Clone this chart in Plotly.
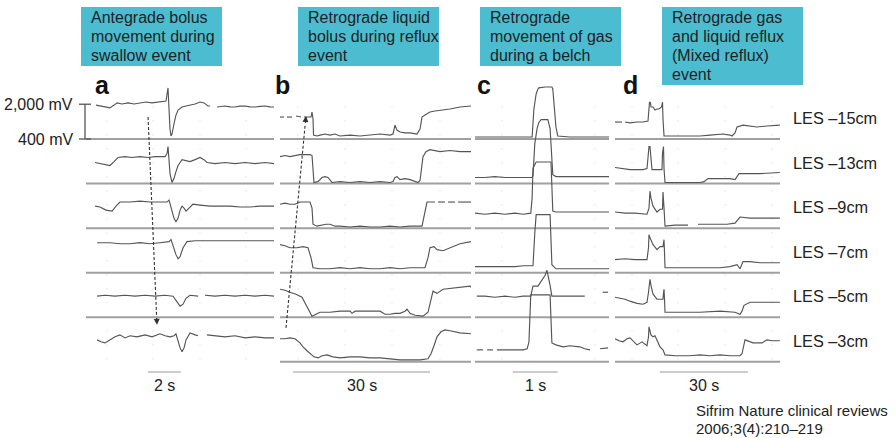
import plotly.graph_objects as go

# ---------------------------------------------------------------------------
# Intraluminal impedance recordings, six channels per event (mV vs seconds).
# Each trace is a list of (time_s, impedance_mV); None marks a gap in signal.
# ---------------------------------------------------------------------------
CHANNELS = ["LES \u201315cm", "LES \u201313cm", "LES \u20139cm",
            "LES \u20137cm", "LES \u20135cm", "LES \u20133cm"]
BASELINE_MV = 400
CHANNEL_SPACING_MV = 2050

PANEL_LETTERS = ["a", "b", "c", "d"]
PANEL_TITLES = [
    ["Antegrade bolus", "movement during", "swallow event"],
    ["Retrograde liquid", "bolus during reflux", "event"],
    ["Retrograde", "movement of gas", "during a belch"],
    ["Retrograde gas", "and liquid reflux", "(Mixed reflux)", "event"],
]
PANEL_SPAN_S = [11.39, 41.82, 2.98, 56.25]
TIME_BAR_S = [2, 30, 1, 30]
TIME_BAR_LABELS = ["2 s", "30 s", "1 s", "30 s"]
SCALE_MV = [2000, 400]
SCALE_LABELS = ["2,000 mV", "400 mV"]
CITATION = ["Sifrim Nature clinical reviews", "2006;3(4):210\u2013219"]

# (a) swallow
A_CH1 = [(0.61, 1960), (0.85, 1920), (1.09, 1870), (1.45, 1830), (1.70, 1960), (1.88, 2060),
         (2.18, 2010), (2.55, 2060), (2.91, 2010), (3.27, 2060), (3.64, 2100), (4.00, 2060),
         (4.36, 2100), (4.67, 2100), (4.85, 2150), (4.91, 2470), (4.97, 2750), (5.00, 2240),
         (5.03, 1370), (5.09, 860), (5.15, 540), (5.21, 630), (5.33, 1090), (5.45, 1500),
         (5.58, 1730), (5.82, 1870), (6.06, 1920), (6.30, 1960), (6.61, 2010), (6.91, 2100),
         (7.15, 2060), (7.39, 1920), (7.52, 1920), None, (7.94, 1870), (8.18, 1900),
         (8.42, 1920), (8.73, 1880), (9.03, 1870), (9.33, 1910), (9.64, 1920), (9.94, 1880),
         (10.24, 1870), (10.55, 1900), (10.85, 1920), (11.15, 1880), (11.39, 1870)]
A_CH2 = [(0.55, 1370), (0.85, 1320), (1.15, 1270), (1.45, 1230), (1.70, 1410), (1.94, 1600),
         (2.36, 1640), (2.79, 1600), (3.27, 1640), (3.76, 1600), (4.18, 1640), (4.48, 1640),
         (4.79, 1640), (4.91, 1780), (4.97, 2100), (5.00, 1780), (5.03, 1320), (5.09, 860),
         (5.21, 450), (5.33, 630), (5.45, 950), (5.58, 1230), (5.82, 1500), (6.06, 1460),
         (6.30, 1410), (6.61, 1500), (6.91, 1600), (7.15, 1500), (7.33, 1370), (7.82, 1320),
         (8.42, 1370), (9.03, 1320), (9.64, 1370), (10.24, 1320), (10.85, 1370), (11.39, 1320)]
A_CH3 = [(0.55, 1410), (0.85, 1370), (1.21, 1230), (1.58, 1180), (1.82, 1410), (2.06, 1600),
         (2.67, 1600), (3.27, 1640), (3.88, 1600), (4.48, 1600), (4.91, 1600), (5.03, 1690),
         (5.09, 1500), (5.21, 1230), (5.33, 860), (5.45, 680), (5.58, 860), (5.70, 1230),
         (5.82, 1410), (5.94, 1320), (6.06, 1180), (6.24, 1320), (6.48, 1500), (6.91, 1460),
         (7.52, 1410), (8.12, 1410), (8.73, 1410), (9.33, 1370), (9.94, 1370), (10.55, 1410),
         (11.39, 1410)]
A_CH4 = [(0.67, 1780), (1.45, 1780), (2.06, 1730), (2.67, 1730), (3.27, 1780), (3.88, 1730),
         (4.48, 1780), (4.91, 1830), (5.03, 1830), (5.15, 1920), (5.21, 1780), (5.33, 1550),
         (5.45, 1230), (5.58, 1040), (5.70, 1140), (5.88, 1550), (6.12, 1830), (6.61, 1870),
         (7.52, 1870), (8.73, 1870), (9.94, 1870), (11.39, 1870)]
A_CH5 = [(0.67, 1370), (1.15, 1410), (1.76, 1370), (2.36, 1410), (2.97, 1370), (3.58, 1410),
         (4.18, 1370), (4.79, 1410), (5.27, 1370), (5.45, 1180), (5.58, 1000), (5.70, 910),
         (5.88, 1000), (6.06, 1270), (6.30, 1410), (6.79, 1370), None, (7.21, 1410),
         (7.82, 1370), (8.42, 1410), (9.03, 1370), (9.64, 1410), (10.24, 1370), (10.85, 1410),
         (11.39, 1370)]
A_CH6 = [(0.67, 1410), (0.91, 1320), (1.15, 1270), (1.45, 1410), (1.76, 1550), (2.06, 1640),
         (2.36, 1500), (2.67, 1600), (3.09, 1550), (3.58, 1640), (4.00, 1550), (4.48, 1690),
         (4.79, 1600), (5.09, 1550), (5.33, 1600), (5.45, 1690), (5.58, 1320), (5.70, 1040),
         (5.82, 860), (5.94, 1040), (6.06, 1410), (6.30, 1730), (6.61, 1640), (6.79, 1600),
         None, (7.33, 1640), (7.82, 1600), (8.42, 1550), (9.03, 1600), (9.64, 1500),
         (10.24, 1550), (10.85, 1500), (11.39, 1500)]

# (b) liquid reflux
B_CH1 = [(0.0, 1410), (0.88, 1410), None, (1.53, 1410), (2.63, 1410), None, (3.50, 1460),
         (4.60, 1410), None, (5.26, 1410), (6.79, 1410), (7.01, 1640), (7.23, 1320),
         (7.34, 580), (8.10, 540), (8.76, 580), (9.85, 630), (10.95, 580), (12.04, 630),
         (13.14, 540), (15.33, 580), (17.52, 540), (19.71, 580), (21.90, 630), (24.09, 580),
         (24.74, 630), (25.18, 1040), (25.62, 810), (26.28, 720), (27.37, 680), (28.47, 680),
         (30.00, 630), (30.66, 860), (31.09, 1410), (31.75, 1500), (32.84, 1640), (33.94, 1690),
         (35.69, 1730), (37.22, 1780), (39.41, 1870), (41.82, 1920)]
B_CH2 = [(0.0, 1640), (1.09, 1690), (2.19, 1640), (3.28, 1690), (4.38, 1730), (5.47, 1730),
         (6.57, 1730), (7.01, 1690), (7.23, 860), (7.44, 450), (8.32, 490), (9.20, 680),
         (9.85, 720), (10.50, 680), (11.39, 450), (13.14, 490), (15.33, 450), (17.52, 490),
         (19.71, 450), (21.90, 490), (24.09, 450), (24.74, 490), (25.18, 680), (25.62, 720),
         (26.28, 580), (27.37, 630), (28.47, 580), (29.56, 490), (30.22, 450), (30.66, 540),
         (31.31, 1640), (31.97, 1870), (32.84, 1960), (35.03, 1870), (37.22, 1920),
         (39.41, 1870), (41.82, 1870)]
B_CH3 = [(0.0, 1500), (1.09, 1550), (2.19, 1500), (3.28, 1500), (4.38, 1600), (5.47, 1600),
         (6.57, 1600), (7.01, 1320), (7.23, 580), (8.10, 490), (9.20, 540), (10.07, 580),
         (10.95, 580), (12.04, 490), (13.14, 490), (15.33, 450), (17.52, 490), (19.71, 450),
         (21.90, 450), (24.09, 490), (26.28, 450), (28.47, 490), (31.09, 490), (31.75, 1090),
         (32.19, 1600), (33.94, 1600), None, (34.60, 1600), (36.13, 1600), None, (36.80, 1600),
         (38.32, 1600), None, (39.00, 1600), (41.82, 1600)]
B_CH4 = [(0.0, 1690), (1.09, 1640), (2.19, 1550), (3.72, 1550), (5.04, 1600), (6.13, 1550),
         (6.79, 1090), (7.23, 630), (8.76, 580), (10.95, 580), (13.14, 630), (15.33, 580),
         (17.52, 630), (19.71, 580), (21.90, 580), (24.09, 630), (26.28, 580), (28.47, 630),
         (30.66, 630), (31.75, 630), (32.41, 1090), (32.84, 1550), (33.72, 1600), (34.38, 1460),
         (35.69, 1410), (37.22, 1550), (39.41, 1730), (41.82, 1830)]
B_CH5 = [(0.0, 1690), (1.09, 1640), (2.19, 1550), (3.50, 1460), (4.82, 1320), (5.91, 910),
         (6.57, 630), (7.01, 450), (7.88, 540), (8.76, 630), (10.95, 630), (13.14, 680),
         (15.33, 680), (15.77, 580), (16.42, 680), (18.61, 680), (21.90, 680), (23.00, 540),
         (24.09, 540), (25.18, 580), (26.28, 580), (27.37, 680), (27.81, 770), (28.47, 580),
         (29.56, 490), (31.31, 450), (32.41, 630), (33.50, 1600), (34.38, 1500), (35.69, 1690),
         (37.22, 1730), (39.41, 1780), (41.60, 1830), (41.82, 1780)]
B_CH6 = [(0.0, 1460), (1.09, 1460), (2.19, 1500), (3.28, 1460), (4.38, 1270), (5.04, 1090),
         (5.91, 910), (6.57, 770), (7.44, 630), (8.32, 580), (9.20, 680), (10.29, 720),
         (11.61, 630), (13.14, 580), (15.33, 630), (17.52, 630), (19.71, 580), (21.90, 580),
         (24.09, 540), (26.28, 490), (28.47, 490), (30.66, 490), (32.41, 540), (33.06, 770),
         (33.72, 1140), (34.38, 1550), (35.25, 1780), (36.13, 1870), (37.22, 1830),
         (38.32, 1780), (39.41, 1730), (41.82, 1690)]

# (c) belch
C_CH1 = [(0.0, 490), (0.44, 490), (0.89, 490), (1.27, 490), (1.31, 1780), (1.36, 2470),
         (1.40, 2700), (1.42, 2750), (1.56, 2790), (1.71, 2790), (1.73, 2700), (1.78, 1550),
         (1.80, 950), (1.84, 540), (2.11, 490), (2.56, 490), (2.98, 490)]
C_CH2 = [(0.0, 680), (0.22, 680), (0.44, 720), (0.67, 680), (0.89, 680), (1.07, 680),
         (1.27, 680), (1.29, 770), (1.33, 2240), (1.38, 2930), (1.42, 3210), (1.47, 3340),
         (1.62, 3340), (1.67, 2930), (1.69, 2240), (1.71, 1320), (1.73, 810), (1.80, 720),
         (2.11, 720), (2.56, 720), (2.98, 720)]
C_CH3 = [(0.0, 1090), (0.22, 1040), (0.44, 1090), (0.67, 1040), (0.89, 1090), (1.07, 1040),
         (1.24, 1090), (1.27, 1780), (1.29, 3160), (1.36, 3440), (1.69, 3440), (1.71, 2240),
         (1.73, 1180), (1.80, 1140), (2.11, 1140), (2.56, 1140), (2.98, 1140)]
C_CH4 = [(0.0, 680), (0.22, 680), (0.44, 680), (0.67, 680), (0.89, 680), (1.07, 720),
         (1.29, 720), (1.33, 2240), (1.36, 3070), (1.67, 3070), (1.69, 1780), (1.71, 770),
         (1.80, 580), (2.11, 580), (2.56, 580), (2.98, 580)]
C_CH5 = [(0.04, 1370), (0.22, 1370), (0.44, 1320), (0.67, 1370), (0.89, 1320), (1.07, 1370),
         (1.24, 1370), (1.29, 1830), (1.40, 1830), (1.47, 2060), (1.56, 2330), (1.60, 2560),
         (1.64, 2240), (1.67, 1870), (1.71, 1370), (1.96, 1370), (2.22, 1370), (2.44, 1370),
         None, (2.84, 1550), (2.96, 1550)]
C_CH6 = [(0.04, 950), (0.18, 950), None, (0.27, 950), (0.40, 950), None, (0.49, 950),
         (0.67, 950), (0.89, 950), (1.07, 950), (1.16, 1000), (1.20, 1320), (1.24, 3480),
         (1.67, 3480), (1.71, 1270), (1.80, 1180), (1.96, 1090), (2.11, 1140), (2.33, 1090),
         (2.44, 1000), (2.56, 950), None, (2.78, 1000), (2.96, 1040)]

# (d) mixed reflux
D_CH1 = [(0.0, 1180), (2.39, 1180), None, (3.41, 1180), (5.11, 1140), (7.50, 1180),
         (9.55, 1180), (11.25, 1230), (11.59, 1780), (11.76, 2100), (12.10, 2060),
         (12.27, 1870), (12.96, 1870), (13.64, 1730), (14.32, 1780), (15.00, 1780),
         (15.85, 1870), (16.02, 2100), (16.19, 2100), (16.36, 1320), (16.71, 540),
         (22.16, 540), (25.57, 540), (28.98, 540), (32.39, 580), (36.82, 630), (39.21, 580),
         (39.89, 540), (40.91, 680), (41.60, 950), (43.64, 1040), (46.03, 1000), (48.41, 950),
         (51.82, 1000), (56.20, 1040)]
D_CH2 = [(0.0, 1140), (2.39, 1090), (5.11, 1040), (7.50, 1040), (9.55, 1040), (10.91, 1090),
         (11.42, 1780), (11.59, 2100), (11.93, 2100), (12.10, 1780), (12.61, 1040),
         (13.98, 1040), (15.34, 1040), (16.02, 1040), (16.19, 1780), (16.36, 2100),
         (16.53, 2100), (16.71, 1090), (17.05, 450), (22.16, 450), (25.57, 450), (28.98, 450),
         (30.34, 490), (31.71, 630), (35.80, 630), (39.21, 630), (40.91, 580), (41.60, 720),
         (42.28, 860), (46.03, 860), (49.44, 860), (56.20, 910)]
D_CH3 = [(0.0, 1140), (3.41, 1090), (6.82, 1090), (9.55, 1040), (10.91, 1040), (11.59, 1320),
         (11.93, 2100), (12.27, 1780), (12.96, 1410), (14.32, 1140), (15.34, 1270),
         (16.19, 1270), (16.36, 2060), (16.71, 1320), (17.05, 490), (20.46, 540), (24.89, 540),
         None, (28.30, 580), (32.39, 580), (35.80, 580), (38.19, 580), (40.91, 630),
         (41.94, 770), (42.62, 910), (46.03, 860), (49.44, 860), (56.20, 860)]
D_CH4 = [(0.0, 1000), (3.41, 1040), (6.82, 1000), (9.55, 1000), (10.91, 1000), (11.42, 1550),
         (11.59, 2150), (11.93, 2010), (12.96, 1690), (14.32, 1460), (15.34, 1600),
         (16.36, 1600), (16.53, 1780), (16.71, 1920), (16.88, 1320), (17.05, 630), (22.16, 630),
         (28.98, 630), (35.80, 630), (39.21, 680), (40.91, 720), (41.60, 770), (42.62, 580),
         (43.64, 910), (46.03, 910), (49.44, 860), (56.20, 860)]
D_CH5 = [(0.0, 1320), (1.70, 1270), (3.41, 1230), (5.11, 1140), (7.50, 1040), (9.55, 1000),
         (10.91, 1090), (11.42, 1550), (11.93, 2150), (12.27, 1870), (12.96, 1460),
         (14.32, 1230), (15.34, 1230), (16.36, 1230), (16.53, 1500), (16.71, 1690),
         (16.88, 1230), (17.05, 630), (22.16, 630), (28.98, 630), (35.80, 680), (40.91, 630),
         (42.62, 540), (43.30, 680), (43.98, 950), (46.03, 1090), (49.44, 1090), (52.85, 1090),
         (56.20, 1090)]
D_CH6 = [(0.0, 1460), (1.36, 1370), (2.73, 1320), (4.09, 1460), (5.11, 1500), (6.48, 1320),
         (7.50, 1180), (9.21, 1320), (10.23, 1230), (10.91, 1140), (11.42, 1550), (11.59, 2010),
         (12.27, 1640), (12.96, 1550), (13.64, 1600), (14.32, 1410), (15.34, 1090),
         (16.36, 950), (16.71, 860), (17.05, 720), (20.46, 680), (25.57, 680), (28.98, 720),
         (32.39, 680), (35.80, 720), (39.21, 680), (42.62, 680), (43.30, 770), (44.32, 1410),
         (46.03, 1320), (47.05, 1270), (48.76, 1270), (50.12, 1270), (51.82, 1410),
         (53.53, 1370), (56.20, 1370)]

PANELS = [
    [A_CH1, A_CH2, A_CH3, A_CH4, A_CH5, A_CH6],
    [B_CH1, B_CH2, B_CH3, B_CH4, B_CH5, B_CH6],
    [C_CH1, C_CH2, C_CH3, C_CH4, C_CH5, C_CH6],
    [D_CH1, D_CH2, D_CH3, D_CH4, D_CH5, D_CH6],
]

# ---------------------------------------------------------------------------
# Layout
# ---------------------------------------------------------------------------
W, H = 896, 438
FONT = "Liberation Sans, Arial, Helvetica, sans-serif"
BOX_COLOR = "#4cbcd1"
TEXT_COLOR = "#222222"
TRACE_COLOR = "#555555"
BASE_COLOR = "#a0a0a0"

MV_PER_PX = 46
TOP_BASELINE_PX = 139
Y_TOP = BASELINE_MV + TOP_BASELINE_PX * MV_PER_PX
Y_BOTTOM = BASELINE_MV - (H - TOP_BASELINE_PX) * MV_PER_PX

DOMAINS_PX = [(86, 274), (280, 471), (475, 609), (615, 780)]
AXIS_IDS = ["x", "x2", "x3", "x4"]
BASELINE_COUNT = [5, 6, 6, 6]
TIME_BAR_START = [3.75, 2.85, 0.84, 15.3]
GRID_TIMES = [[1.27, 4.06, 6.91, 9.70], [3.94, 14.23, 24.52, 35.03],
              [0.6, 2.67], [5.80, 21.48, 37.5, 53.53]]


def px_x(px):
    return px / W


def px_y(px):
    return 1 - px / H


def offset(k):
    return k * CHANNEL_SPACING_MV


fig = go.Figure()
shapes = []
annotations = []

for p, traces in enumerate(PANELS):
    xa = AXIS_IDS[p]
    span = PANEL_SPAN_S[p]
    # faint dotted time grid
    for t in GRID_TIMES[p]:
        shapes.append(dict(type="line", xref=xa, yref="y", x0=t, x1=t,
                           y0=BASELINE_MV + 1500, y1=BASELINE_MV - offset(5) - 300,
                           line=dict(color="#cfcfcf", width=1, dash="1px,13px"), layer="below"))
    # channel baselines
    for k in range(BASELINE_COUNT[p]):
        yb = BASELINE_MV - offset(k)
        fig.add_trace(go.Scatter(x=[0, span], y=[yb, yb], xaxis=xa, yaxis="y", mode="lines",
                                 line=dict(color=BASE_COLOR, width=2), hoverinfo="skip"))
    # impedance traces
    for k, pts in enumerate(traces):
        xs, ys = [], []
        for pt in pts:
            if pt is None:
                xs.append(None)
                ys.append(None)
            else:
                xs.append(pt[0])
                ys.append(pt[1] - offset(k))
        fig.add_trace(go.Scatter(x=xs, y=ys, xaxis=xa, yaxis="y", mode="lines",
                                 connectgaps=False,
                                 line=dict(color=TRACE_COLOR, width=1.15), hoverinfo="skip"))
    # time scale bar
    t0 = TIME_BAR_START[p]
    t1 = t0 + TIME_BAR_S[p]
    shapes.append(dict(type="line", xref=xa, yref="paper", x0=t0, x1=t1,
                       y0=px_y(372), y1=px_y(372), line=dict(color="#999999", width=1.2)))
    annotations.append(dict(xref=xa, yref="paper", x=(t0 + t1) / 2, y=px_y(385),
                            text=TIME_BAR_LABELS[p], showarrow=False,
                            font=dict(size=16, color=TEXT_COLOR, family=FONT),
                            xanchor="center", yanchor="middle"))

# event description boxes, one annotation per text line
BOXES_PX = [(81, 222, 7, 66), (298, 439, 7, 66), (480, 621, 7, 66), (662, 803, 7, 85)]
LINE_STEP_PX = 18.8
for (x0, x1, y0, y1), lines in zip(BOXES_PX, PANEL_TITLES):
    shapes.append(dict(type="rect", xref="paper", yref="paper",
                       x0=px_x(x0), x1=px_x(x1), y0=px_y(y1), y1=px_y(y0),
                       fillcolor=BOX_COLOR, line=dict(width=0), layer="below"))
    for i, line in enumerate(lines):
        annotations.append(dict(xref="paper", yref="paper", x=px_x(x0 + 8),
                                y=px_y(y0 + 11 + i * LINE_STEP_PX),
                                text=line, showarrow=False, align="left",
                                xanchor="left", yanchor="middle",
                                font=dict(size=16, color=TEXT_COLOR, family=FONT)))

# panel letters
LETTER_X_PX = [102, 282, 484, 630]
for letter, lx in zip(PANEL_LETTERS, LETTER_X_PX):
    annotations.append(dict(xref="paper", yref="paper", x=px_x(lx), y=px_y(85),
                            text=f"<b>{letter}</b>", showarrow=False,
                            xanchor="center", yanchor="middle",
                            font=dict(size=25, color="#111111", family=FONT)))

# channel labels
for k, name in enumerate(CHANNELS):
    annotations.append(dict(xref="paper", yref="y", x=px_x(791),
                            y=BASELINE_MV + 21 * MV_PER_PX - offset(k),
                            text=name, showarrow=False, xanchor="left", yanchor="middle",
                            font=dict(size=16.3, color=TEXT_COLOR, family=FONT)))

# amplitude scale bar
shapes.append(dict(type="line", xref="paper", yref="y", x0=px_x(85), x1=px_x(85),
                   y0=SCALE_MV[0], y1=SCALE_MV[1], line=dict(color="#555555", width=1.3)))
for mv, lab in zip(SCALE_MV, SCALE_LABELS):
    shapes.append(dict(type="line", xref="paper", yref="y", x0=px_x(79), x1=px_x(91),
                       y0=mv, y1=mv, line=dict(color="#555555", width=1.3)))
    annotations.append(dict(xref="paper", yref="y", x=px_x(75), y=mv, text=lab,
                            showarrow=False, xanchor="right", yanchor="middle",
                            font=dict(size=16, color=TEXT_COLOR, family=FONT)))

# dashed arrows showing direction of bolus travel
# (axis, tail time, tail channel, tail mV, head time, head channel, head mV)
ARROWS = [("x", 3.76, 0, 1410, 4.30, 5, 2100),
          ("x2", 1.31, 5, 1960, 5.69, 0, 1460)]
for xa, ta, ka, va, tb, kb, vb in ARROWS:
    ya = va - offset(ka)
    yb = vb - offset(kb)
    # tail of the arrowhead, a short way back along the shaft
    f = 0.96
    tm = ta + (tb - ta) * f
    ym = ya + (yb - ya) * f
    shapes.append(dict(type="line", xref=xa, yref="y", x0=ta, y0=ya, x1=tm, y1=ym,
                       line=dict(color="#333333", width=1.1, dash="3px,2px")))
    annotations.append(dict(xref=xa, yref="y", axref=xa, ayref="y", x=tb, y=yb,
                            ax=tm, ay=ym, text="", showarrow=True, arrowhead=2,
                            arrowsize=1, arrowwidth=1.2, arrowcolor="#333333", standoff=0))

# citation
for i, line in enumerate(CITATION):
    annotations.append(dict(xref="paper", yref="paper", x=px_x(694), y=px_y(410 + i * 18),
                            text=line, showarrow=False, align="left",
                            xanchor="left", yanchor="middle",
                            font=dict(size=15, color=TEXT_COLOR, family=FONT)))

axes_layout = {}
for i, (d0, d1) in enumerate(DOMAINS_PX):
    name = "xaxis" if i == 0 else f"xaxis{i + 1}"
    axes_layout[name] = dict(domain=[px_x(d0), px_x(d1)], range=[0, PANEL_SPAN_S[i]],
                             visible=False, anchor="y", fixedrange=True)

fig.update_layout(
    width=W, height=H,
    margin=dict(l=0, r=0, t=0, b=0),
    paper_bgcolor="white", plot_bgcolor="white",
    showlegend=False,
    yaxis=dict(domain=[0, 1], range=[Y_BOTTOM, Y_TOP], visible=False, fixedrange=True),
    shapes=shapes, annotations=annotations,
    **axes_layout,
)

fig.write_html("out.html", config={"displayModeBar": False})
